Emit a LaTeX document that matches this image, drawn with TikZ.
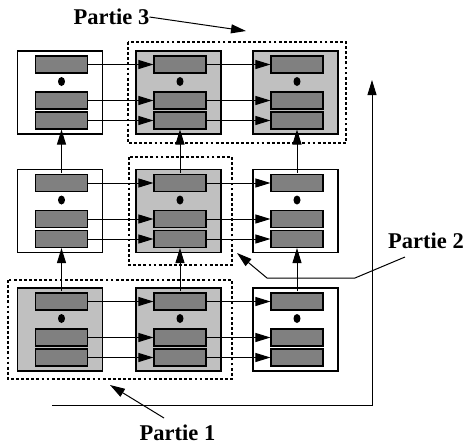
\documentclass[tikz,border=0pt]{standalone}
\usepackage{fontspec}
\setmainfont{Liberation Serif}
\usetikzlibrary{arrows.meta,shapes.geometric}
\definecolor{cellgray}{HTML}{C0C0C0}
\definecolor{bargray}{HTML}{808080}
\tikzset{
  cellbox/.style={draw=black, line width=1.1pt, minimum width=85pt, minimum height=83pt, inner sep=0pt},
  cellon/.style={cellbox, fill=cellgray},
  celloff/.style={cellbox, fill=white},
  bar/.style={draw=black, line width=1.1pt, fill=bargray, minimum width=52pt, minimum height=17pt, inner sep=0pt},
  dotmark/.style={fill=black, draw=none, ellipse, minimum width=7pt, minimum height=9pt, inner sep=0pt},
  link/.style={line width=1pt, -{Triangle[length=15pt,width=9pt]}},
  zone/.style={line width=2.8pt, dash pattern=on 2.8pt off 2.3pt},
  label/.style={font=\bfseries\fontsize{22.5}{24}\selectfont, inner sep=0pt}
}
\begin{document}
\begin{tikzpicture}[x=1pt, y=-1pt]
\useasboundingbox (0,0) rectangle (467,448);

% grouping zones
\draw[zone] (128,42) rectangle (346,143);
\draw[zone] (129,157) rectangle (232,265);
\draw[zone] (8,280) rectangle (232,379);

% cells: columns i = 1..3, rows j = 1 (top) .. 3 (bottom)
\foreach \i/\x in {1/60, 2/178.5, 3/295.5}{
  \foreach \j/\y in {1/92.5, 2/211, 3/329.5}{
    \pgfmathtruncatemacro{\shade}{(\i==2) || (\j==1 && \i==3) || (\j==3 && \i==1)}
    \ifnum\shade=1
      \node[cellon] (c\i\j) at (\x,\y) {};
    \else
      \node[celloff] (c\i\j) at (\x,\y) {};
    \fi
    \node[bar] (a\i\j) at (\x+1.5,\y-28) {};
    \node[dotmark] (d\i\j) at (\x+1.5,\y-11) {};
    \node[bar] (b\i\j) at (\x+1.5,\y+8) {};
    \node[bar] (e\i\j) at (\x+1.5,\y+28) {};
  }
}

% horizontal links between neighbouring cells
\foreach \j in {1,2,3}{
  \foreach \i/\k in {1/2, 2/3}{
    \draw[link] ([xshift=-1pt]a\i\j.east) -- (a\k\j.west);
    \draw[link] ([xshift=-1pt]b\i\j.east) -- (b\k\j.west);
    \draw[link] ([xshift=-1pt]e\i\j.east) -- (e\k\j.west);
  }
}

% vertical links between neighbouring cells
\foreach \i in {1,2,3}{
  \foreach \j/\k in {3/2, 2/1}{
    \draw[link] ([yshift=1pt]a\i\j.north) -- (e\i\k.south);
  }
}

% sweep direction
\coordinate (sw0) at (52,405);
\coordinate (sw1) at (372,405);
\coordinate (sw2) at (372,80);
\draw[link] (sw0) -- (sw1) -- (sw2);

% labels
\node[label] (p3) at (111.5,17) {Partie 3};
\coordinate (p3t) at (246,31);
\draw[link] (p3.east) -- (p3t);

\node[label] (p2) at (426,241) {Partie 2};
\coordinate (p2a) at (405,257);
\coordinate (p2b) at (355,278);
\coordinate (p2c) at (267,278);
\coordinate (p2t) at (237,253);
\draw[link] (p2a) -- (p2b) -- (p2c) -- (p2t);

\node[label] (p1) at (177.5,433) {Partie 1};
\coordinate (p1a) at (164,418);
\coordinate (p1t) at (110,385);
\draw[link] (p1a) -- (p1t);
\end{tikzpicture}
\end{document}
